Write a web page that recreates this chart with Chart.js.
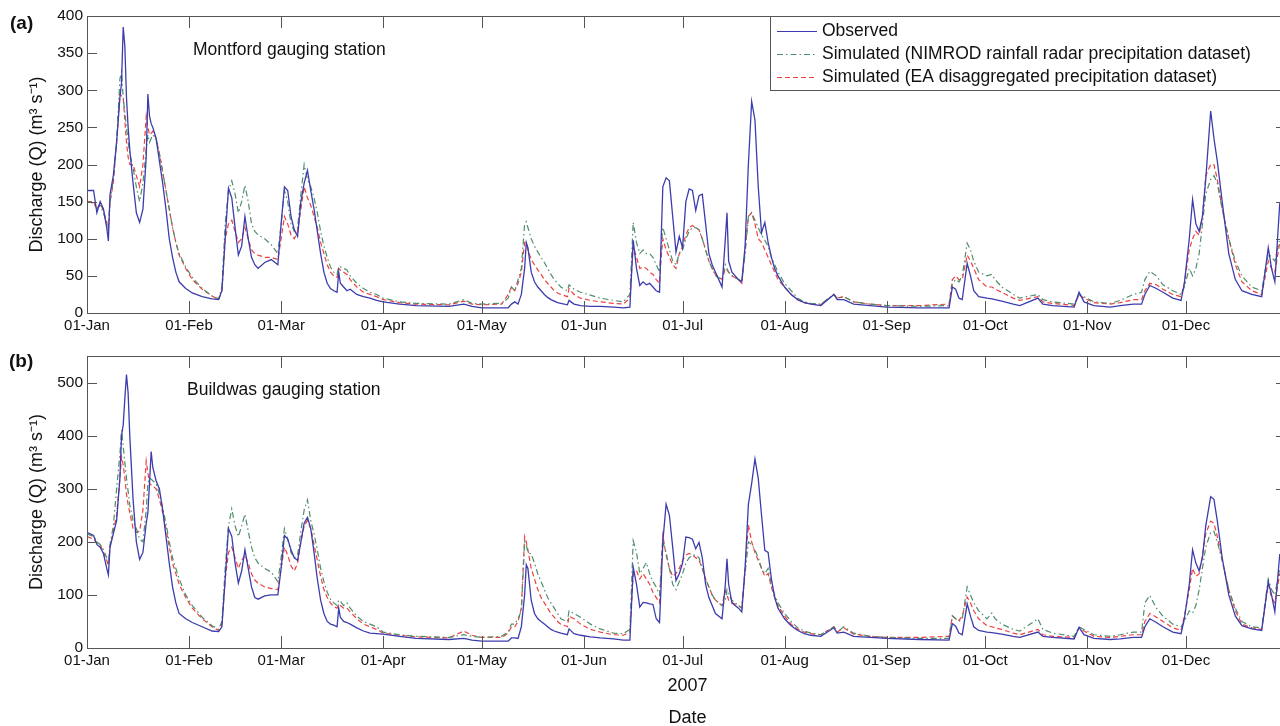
<!DOCTYPE html>
<html>
<head>
<meta charset="utf-8">
<script src="https://cdn.jsdelivr.net/npm/chart.js@4.4.1/dist/chart.umd.min.js"></script>
<style>
  html, body { margin: 0; padding: 0; background: #fff; overflow: hidden; }
  body { width: 1280px; height: 726px; position: relative; }
  .panel { position: absolute; left: 0; width: 1300px; }
  #wrapA { top: 0; height: 340px; }
  #wrapB { top: 340px; height: 386px; }
</style>
</head>
<body>
<div class="panel" id="wrapA"><canvas id="chartA"></canvas></div>
<div class="panel" id="wrapB"><canvas id="chartB"></canvas></div>
<script>
// day of year 2007 (0 = 01-Jan)
const days = [
  0,2,3,4,5,6,6.5,7,8,9,
  10,10.5,11,11.5,12,12.5,13,14,15,16,
  17,18,18.5,19,19.5,20,21,22,23,24,
  25,26,27,28,30,32,35,38,40,41,
  42,43,44,45,46,47,48,49,50,51,
  52,54,56,58,59,60,61,62,63,64,
  65,66,67,68,69,70,71,72,73,74,
  75,76,76.5,77,78,79,80,82,84,86,
  88,90,95,100,110,114.5,117,120,126,128,
  129,130,131,132,133,133.5,134,135,136,137,
  138,139,140,141,142,143,144,146,146.5,148,
  150,153,156,160,163,165,166,167,168,169,
  170,171,172,173,174,174.5,175,176,177,178,
  179,180,181,182,183,184,185,186,187,188,
  189,190,191,193,194,194.5,195,196,198,199,
  200,201,202,203,204,205,206,207,208,209,
  210,212,214,216,218,220,223,227,228,230,
  233,238,243,253,262,263,264,265,266,267.5,
  268.5,269.5,271,273.5,275,276,278,281.5,283.5,289,
  290.5,293.5,300,301.5,303,306,311,314,318,320.5,
  321.5,323,325,327,330,332.5,333.5,335,336,337,
  338,339,340,341.5,342.5,343.5,345,347,349,351,
  354,357,359,360,361,362.5
];

// (a) Montford
const obsA = [
  165,165,135,150,140,115,97,160,185,230,
  290,310,385,360,290,250,220,175,135,122,
  140,210,295,265,255,250,235,205,175,140,
  100,75,55,42,33,27,22,19,18,30,
  100,168,155,115,78,90,130,100,75,65,
  60,68,72,65,120,170,165,130,112,103,
  150,175,192,165,140,110,80,55,40,33,
  30,28,55,40,35,30,32,25,22,20,
  17,15,12,10,9,12,9,7,7,7,
  12,15,12,25,60,95,88,55,42,35,
  30,25,21,18,16,14,13,11,17,12,
  10,9,9,8,7,8,98,60,37,42,
  38,40,35,30,28,100,170,182,178,130,
  82,103,88,150,167,165,138,158,160,120,
  80,65,55,35,100,135,70,55,45,42,
  90,200,285,260,170,108,122,95,75,60,
  50,35,25,18,14,12,10,25,18,18,
  12,10,8,7,7,35,32,20,18,67,
  50,30,22,20,19,18,16,12,10,20,
  12,10,8,28,15,10,8,10,12,12,
  25,37,33,28,20,17,40,100,153,120,
  110,130,180,272,235,205,150,80,45,30,
  25,22,88,60,42,148
];
const nimA = [
  150,148,140,145,135,120,115,150,180,230,
  315,325,290,270,250,230,215,195,170,150,
  175,220,240,230,235,240,235,215,190,165,
  140,115,95,80,62,48,33,23,19,35,
  120,165,178,160,135,150,172,150,120,110,
  105,100,92,80,120,165,150,120,110,115,
  160,200,180,170,155,135,110,90,75,62,
  55,52,62,62,60,58,50,40,33,28,
  25,20,15,13,12,18,13,12,13,20,
  35,30,45,60,120,123,115,100,90,82,
  75,68,60,52,45,40,35,30,38,32,
  28,24,20,17,15,25,122,95,80,85,
  80,80,75,65,55,90,115,100,85,70,
  65,80,85,100,110,115,115,112,100,85,
  70,60,50,45,65,60,55,50,45,42,
  80,130,135,125,115,105,98,90,75,65,
  55,40,30,20,15,13,12,25,20,22,
  15,12,10,9,10,40,45,42,50,94,
  85,70,55,50,52,45,35,25,20,25,
  18,15,12,25,22,15,13,17,25,28,
  45,56,50,38,30,25,35,60,50,60,
  80,120,160,180,185,175,140,100,70,50,
  35,30,80,75,70,100
];
const eaA = [
  150,150,140,148,138,122,112,150,175,230,
  295,292,290,260,230,210,200,200,185,170,
  200,265,250,240,242,245,235,215,190,165,
  140,115,95,78,60,45,32,23,18,30,
  100,120,125,110,95,100,115,100,85,80,
  78,75,75,72,100,130,120,105,100,110,
  140,170,155,145,130,115,95,80,65,55,
  50,48,60,58,55,52,45,35,28,25,
  22,18,14,12,11,16,12,11,12,25,
  35,30,40,55,95,93,85,72,65,58,
  52,45,40,35,30,27,25,22,33,25,
  20,17,15,13,12,20,90,75,60,62,
  60,55,52,45,40,75,100,85,75,65,
  60,80,90,105,115,118,115,112,100,85,
  70,60,52,45,60,58,55,50,45,40,
  85,130,135,120,100,95,85,75,65,55,
  45,35,25,18,14,12,11,25,20,22,
  15,12,10,10,12,45,50,45,45,78,
  70,60,45,35,35,32,28,20,17,22,
  15,13,10,25,20,14,12,14,18,18,
  30,40,38,32,25,22,40,85,100,110,
  105,130,185,200,200,180,140,100,65,42,
  30,25,70,60,55,95
];

// (b) Buildwas
const obsB = [
  218,212,195,190,178,150,138,190,215,240,
  320,400,420,470,515,480,400,280,200,167,
  180,235,255,310,370,340,315,300,260,210,
  160,115,85,65,55,48,40,32,31,40,
  130,225,210,160,122,145,185,150,115,95,
  92,98,100,100,150,212,205,185,170,165,
  200,235,246,225,180,130,90,65,50,45,
  43,40,75,58,50,48,45,38,32,28,
  27,26,22,18,16,18,15,13,13,13,
  19,19,18,40,100,157,150,90,65,55,
  50,45,40,35,32,30,28,25,36,27,
  24,21,19,17,15,15,152,120,77,86,
  85,83,82,55,48,120,200,271,250,190,
  127,140,160,209,208,205,187,199,170,120,
  95,80,65,55,120,168,120,85,75,68,
  150,270,310,356,320,250,184,180,130,95,
  75,55,42,33,27,24,22,38,28,30,
  22,20,18,16,15,46,41,28,25,83,
  60,40,33,30,29,28,26,22,20,30,
  22,20,17,39,25,18,16,17,20,20,
  40,55,48,40,30,27,55,120,185,160,
  145,170,230,285,280,240,170,100,60,42,
  36,33,125,100,68,177
];
const nimB = [
  215,210,200,195,185,170,160,195,230,300,
  365,410,380,350,320,295,270,240,225,205,
  200,260,310,320,318,315,310,290,265,235,
  200,170,150,130,100,80,58,42,35,50,
  150,230,262,230,210,230,252,220,190,170,
  160,150,143,125,170,225,205,180,170,175,
  220,260,279,240,215,185,150,125,105,92,
  85,80,90,88,80,85,75,60,50,45,
  40,30,25,22,20,25,22,20,22,30,
  45,45,55,70,200,195,180,177,160,140,
  125,110,95,85,75,65,55,50,70,65,
  58,45,36,28,27,35,202,180,140,150,
  161,140,125,115,100,150,200,180,150,120,
  110,125,140,160,170,175,175,170,150,130,
  115,100,90,80,90,110,100,90,80,75,
  140,200,195,185,170,150,140,150,120,100,
  85,65,50,38,32,28,25,40,30,40,
  28,22,20,18,18,60,55,50,55,115,
  100,85,70,55,66,55,45,35,32,55,
  35,28,22,40,35,25,22,25,30,30,
  85,99,75,60,45,40,50,70,66,80,
  110,150,190,218,220,200,165,110,75,50,
  40,38,130,110,100,150
];
const eaB = [
  210,205,198,195,180,165,155,190,220,250,
  320,360,345,320,290,270,255,225,218,220,
  260,352,330,310,307,305,300,280,255,225,
  190,160,140,120,95,75,55,40,33,45,
  130,180,190,170,150,165,175,160,140,128,
  122,115,112,110,150,190,175,155,145,160,
  200,230,240,225,195,165,135,110,95,85,
  78,75,82,80,75,75,68,55,45,40,
  35,28,24,21,19,32,24,20,20,28,
  40,40,50,75,210,200,185,150,130,110,
  95,85,75,65,58,50,45,40,60,55,
  45,35,30,25,24,30,140,146,130,140,
  130,120,105,95,85,150,212,175,150,135,
  140,150,165,175,178,175,170,165,150,130,
  115,100,90,80,108,100,90,85,80,75,
  150,232,200,180,165,150,135,140,115,95,
  80,60,45,35,30,27,25,40,30,38,
  26,22,20,20,22,61,55,52,60,96,
  85,70,55,42,40,38,35,28,25,35,
  25,22,20,38,32,22,20,22,25,25,
  50,65,58,50,38,33,60,110,150,135,
  140,175,215,239,235,210,165,110,70,45,
  38,35,120,95,85,140
];

const monthDays = [0, 31, 59, 90, 120, 151, 181, 212, 243, 273, 304, 334];
const monthLabels = ['01-Jan', '01-Feb', '01-Mar', '01-Apr', '01-May', '01-Jun',
  '01-Jul', '01-Aug', '01-Sep', '01-Oct', '01-Nov', '01-Dec'];
const yTicksA = [0, 50, 100, 150, 200, 250, 300, 350, 400];
const yTicksB = [0, 100, 200, 300, 400, 500];

const FONT = '"Liberation Sans", Arial, Helvetica, sans-serif';
const pts = arr => days.map((d, i) => ({ x: d, y: arr[i] }));

const frame = {
  id: 'frame',
  afterDraw(chart) {
    const { ctx, chartArea: a, scales: { x, y } } = chart;
    ctx.save();
    ctx.strokeStyle = '#555';
    ctx.lineWidth = 1;
    ctx.strokeRect(Math.round(a.left) + 0.5, Math.round(a.top) + 0.5,
      Math.round(a.right - a.left), Math.round(a.bottom - a.top));
    ctx.beginPath();
    x.ticks.forEach(t => {
      const px = Math.round(x.getPixelForValue(t.value)) + 0.5;
      ctx.moveTo(px, a.bottom); ctx.lineTo(px, a.bottom - 12);
      ctx.moveTo(px, a.top); ctx.lineTo(px, a.top + 12);
    });
    y.ticks.forEach(t => {
      const py = Math.round(y.getPixelForValue(t.value)) + 0.5;
      ctx.moveTo(a.left, py); ctx.lineTo(a.left + 10, py);
      ctx.moveTo(a.right, py); ctx.lineTo(a.right - 12, py);
    });
    ctx.stroke();
    ctx.restore();
  }
};

const notes = {
  id: 'notes',
  afterDraw(chart, args, opts) {
    const ctx = chart.ctx;
    ctx.save();
    ctx.fillStyle = '#111';
    ctx.textBaseline = 'middle';
    ctx.font = 'bold 19px ' + FONT;
    ctx.fillText(opts.tag, opts.tagX, opts.tagY);
    ctx.font = '17.5px ' + FONT;
    ctx.fillText(opts.station, opts.stX, opts.stY);
    ctx.restore();
  }
};

const boxLegend = {
  id: 'boxLegend',
  afterDraw(chart, args, opts) {
    if (!opts.show) return;
    const ctx = chart.ctx;
    const top = Math.round(chart.chartArea.top) + 0.5;
    ctx.save();
    ctx.fillStyle = '#fff';
    ctx.fillRect(opts.left, top, 600, opts.height);
    ctx.strokeStyle = '#555';
    ctx.lineWidth = 1;
    ctx.strokeRect(opts.left + 0.5, top, 600, opts.height);
    ctx.font = '17.5px ' + FONT;
    ctx.textBaseline = 'middle';
    chart.data.datasets.forEach((ds, i) => {
      const yy = Math.round(top + opts.firstRow + i * opts.rowGap) + 0.5;
      ctx.strokeStyle = ds.borderColor;
      ctx.lineWidth = 1;
      ctx.setLineDash(ds.borderDash || []);
      ctx.beginPath();
      ctx.moveTo(opts.left + 7, yy);
      ctx.lineTo(opts.left + 47, yy);
      ctx.stroke();
      ctx.setLineDash([]);
      ctx.fillStyle = '#111';
      ctx.fillText(ds.label, opts.left + 52, yy);
    });
    ctx.restore();
  }
};

function makeChart(id, cfg) {
  return new Chart(document.getElementById(id), {
    type: 'line',
    data: {
      datasets: [
        { label: 'Observed', data: pts(cfg.obs), borderColor: '#3c3cae', borderWidth: 1.3 },
        { label: 'Simulated (NIMROD rainfall radar precipitation dataset)', data: pts(cfg.nim),
          borderColor: '#4e8e6a', borderWidth: 1.2, borderDash: [6, 3, 1.5, 3] },
        { label: 'Simulated (EA disaggregated precipitation dataset)', data: pts(cfg.ea),
          borderColor: '#ee4040', borderWidth: 1.2, borderDash: [5, 3] }
      ]
    },
    options: {
      responsive: true,
      maintainAspectRatio: false,
      animation: false,
      elements: { point: { radius: 0 }, line: { tension: 0 } },
      layout: { padding: { left: 0, top: 16, right: 12, bottom: 0 } },
      scales: {
        x: {
          type: 'linear', min: 0, max: 365,
          grid: { display: false, drawTicks: false },
          border: { display: false },
          afterBuildTicks: s => { s.ticks = monthDays.map(v => ({ value: v })); },
          afterFit: s => { s.height = cfg.xHeight; },
          ticks: {
            autoSkip: false, maxRotation: 0, padding: 4, color: '#111',
            font: { family: FONT, size: 15 },
            callback: v => monthLabels[monthDays.indexOf(v)]
          },
          title: cfg.xTitle
        },
        y: {
          min: 0, max: cfg.ymax,
          grid: { display: false, drawTicks: false },
          border: { display: false },
          afterBuildTicks: s => { s.ticks = cfg.yTicks.map(v => ({ value: v })); },
          afterFit: s => { s.width = 87; },
          ticks: { padding: 4, color: '#111', font: { family: FONT, size: 15.5 } },
          title: {
            display: true, text: 'Discharge (Q) (m³ s⁻¹)', color: '#111',
            font: { family: FONT, size: 18 }, padding: { top: 26, bottom: 0 }
          }
        }
      },
      plugins: {
        legend: { display: false },
        tooltip: { enabled: false },
        notes: cfg.notes,
        boxLegend: { show: cfg.legend, left: 770, height: 74, firstRow: 14, rowGap: 23 }
      }
    },
    plugins: [frame, notes, boxLegend]
  });
}

makeChart('chartA', {
  obs: obsA, nim: nimA, ea: eaA, ymax: 400, yTicks: yTicksA, xHeight: 27,
  xTitle: { display: false }, legend: true,
  notes: { tag: '(a)', tagX: 10, tagY: 24, station: 'Montford gauging station', stX: 193, stY: 50 }
});

makeChart('chartB', {
  obs: obsB, nim: nimB, ea: eaB, ymax: 550, yTicks: yTicksB, xHeight: 78,
  xTitle: {
    display: true, text: ['2007', '', 'Date'], color: '#111', padding: 0,
    font: { family: FONT, size: 18, lineHeight: 0.89 }
  },
  legend: false,
  notes: { tag: '(b)', tagX: 9, tagY: 22, station: 'Buildwas gauging station', stX: 187, stY: 50 }
});
</script>
</body>
</html>
